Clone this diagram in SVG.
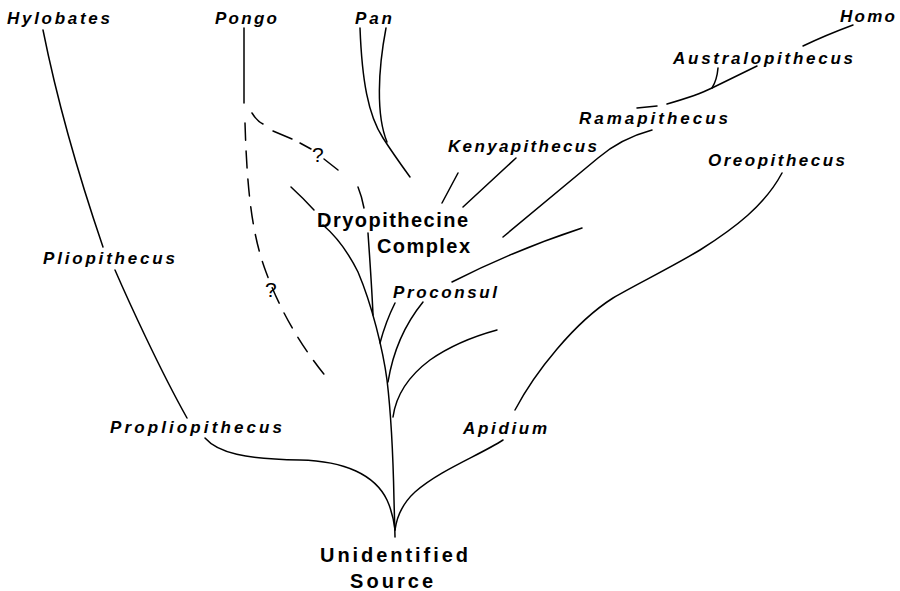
<svg xmlns="http://www.w3.org/2000/svg" width="900" height="591" viewBox="0 0 900 591">
<style>
.bg{fill:#fff}
.ln{fill:none;stroke:#000;stroke-width:1.5;stroke-linecap:round;stroke-linejoin:round}
.ds{fill:none;stroke:#000;stroke-width:1.5;stroke-linecap:round;stroke-dasharray:17 11}
.it{font-family:"Liberation Sans",Arial,sans-serif;font-style:italic;font-weight:bold;font-size:17px;fill:#000}
.bd{font-family:"Liberation Sans",Arial,sans-serif;font-weight:bold;font-size:20px;fill:#000}
.q{font-family:"Liberation Sans",Arial,sans-serif;font-size:21px;fill:#000}
</style>
<rect class="bg" width="900" height="591"/>
<g id="connectors">
  <path class="ln" d="M43,30 C55,90 75,165 103,247"/>
  <path class="ln" d="M115,270 C128,300 160,370 187,418"/>
  <path class="ln" d="M205,438 C218,453 245,459 300,460 C345,461 375,475 387,500 Q393,513 395,530"/>
  <path class="ln" d="M503,440 C480,455 440,470 415,492 C403,503 397,515 395,530"/>
  <path class="ln" d="M782,173 C765,205 735,228 700,250 C670,268 635,285 613,298 C575,322 535,372 515,410"/>
  <path class="ln" d="M395,537 L394,500 C393,450 390,405 387,380 C383,350 372,305 358,272 C348,252 336,236 323,225"/>
  <path class="ln" d="M291,187 Q303,198 314,210"/>
  <path class="ln" d="M358,187 Q362,197 364,208"/>
  <path class="ln" d="M368,233 C370,262 372,290 373,315"/>
  <path class="ln" d="M380,343 C384,328 389,315 395,303"/>
  <path class="ln" d="M582,228 Q515,250 452,282"/>
  <path class="ln" d="M423,302 C410,318 394,345 388,382"/>
  <path class="ln" d="M393,417 C396,395 410,375 430,360 C450,346 475,336 497,330"/>
  <path class="ln" d="M652,130 C630,136 612,146 598,158 L503,237"/>
  <path class="ln" d="M458,173 L442,203"/>
  <path class="ln" d="M516,158 L463,207"/>
  <path class="ln" d="M360,28 C362,80 368,115 383,138 C392,152 402,166 410,177"/>
  <path class="ln" d="M386,28 C378,70 376,115 387,142"/>
  <path class="ln" d="M244,28 L244,103"/>
  <path class="ln" d="M252,113 Q257,121 263,124"/>
  <path class="ln" d="M273,131 L292,139"/>
  <path class="ln" d="M300,143 L311,149"/>
  <path class="ln" d="M324,159 L338,170"/>
  <path class="ds" d="M245,123 C247,190 252,235 266,272 C280,310 300,345 327,378"/>
  <path class="ln" d="M637,108 L657,106"/>
  <path class="ln" d="M667,104 C688,98 700,94 712,88 L757,66"/>
  <path class="ln" d="M718,68 Q717,80 712,88"/>
  <path class="ln" d="M853,25 Q826,35 803,46"/>
</g>
<g id="q1"><text class="q" x="312" y="162">?</text></g>
<g id="q2"><text class="q" x="265" y="297">?</text></g>
<g id="hylobates"><text class="it" x="7" y="24" textLength="103" lengthAdjust="spacing">Hylobates</text></g>
<g id="pongo"><text class="it" x="215" y="24" textLength="62" lengthAdjust="spacing">Pongo</text></g>
<g id="pan"><text class="it" x="355" y="24" textLength="37" lengthAdjust="spacing">Pan</text></g>
<g id="homo"><text class="it" x="840" y="22" textLength="55" lengthAdjust="spacing">Homo</text></g>
<g id="australopithecus"><text class="it" x="673" y="64" textLength="180" lengthAdjust="spacing">Australopithecus</text></g>
<g id="ramapithecus"><text class="it" x="579" y="124" textLength="149" lengthAdjust="spacing">Ramapithecus</text></g>
<g id="kenyapithecus"><text class="it" x="448" y="152" textLength="149" lengthAdjust="spacing">Kenyapithecus</text></g>
<g id="oreopithecus"><text class="it" x="708" y="166" textLength="137" lengthAdjust="spacing">Oreopithecus</text></g>
<g id="pliopithecus"><text class="it" x="43" y="264" textLength="132" lengthAdjust="spacing">Pliopithecus</text></g>
<g id="proconsul"><text class="it" x="393" y="298" textLength="104" lengthAdjust="spacing">Proconsul</text></g>
<g id="propliopithecus"><text class="it" x="110" y="433" textLength="172" lengthAdjust="spacing">Propliopithecus</text></g>
<g id="apidium"><text class="it" x="463" y="434" textLength="84" lengthAdjust="spacing">Apidium</text></g>
<g id="dryopithecine"><text class="bd" x="317" y="227" textLength="151" lengthAdjust="spacing">Dryopithecine</text><text class="bd" x="377" y="253" textLength="93" lengthAdjust="spacing">Complex</text></g>
<g id="source"><text class="bd" x="320" y="562" textLength="148" lengthAdjust="spacing">Unidentified</text><text class="bd" x="350" y="588" textLength="83" lengthAdjust="spacing">Source</text></g>
</svg>
